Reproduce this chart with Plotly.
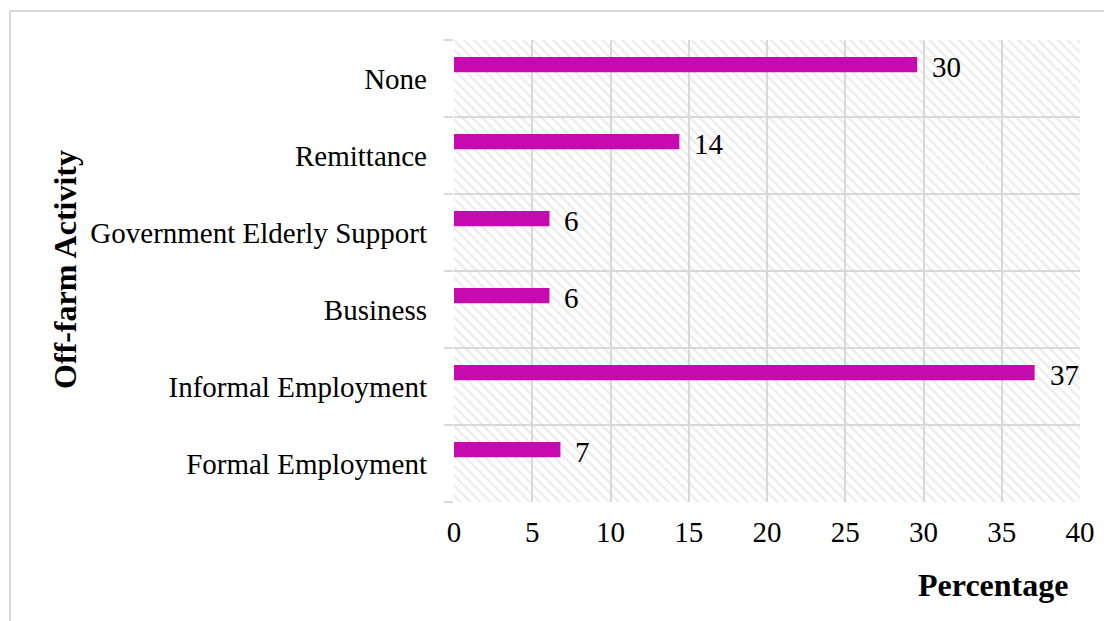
import plotly.graph_objects as go

categories = ["Formal Employment", "Informal Employment", "Business",
              "Government Elderly Support", "Remittance", "None"]
values = [6.8, 37.1, 6.1, 6.1, 14.4, 29.6]
labels = ["7", "37", "6", "6", "14", "30"]
x_max = 40
x_ticks = [0, 5, 10, 15, 20, 25, 30, 35, 40]

W, H = 1112, 621
OFF = 8  # page offset of the figure in the browser
L, R, T, B = 454 - OFF, W - 1080 + OFF, 40 - OFF, H - 502 + OFF
pw, ph = W - L - R, H - T - B

def px_x(p):
    return (p - OFF - L) / pw

def px_y(p):
    return (H - B - (p - OFF)) / ph

FONT = "Liberation Serif, Times New Roman, serif"
GRID = "#d9d9d9"
BAR = "#C709B0"
BAR_W = 0.2
BAR_SHIFT = 0.18  # bars sit above the category centre (clustered layout)

fig = go.Figure()
# hatched background bands
fig.add_trace(go.Bar(
    y=categories, x=[x_max] * len(categories), orientation="h", width=1,
    marker=dict(color="rgba(0,0,0,0)", line=dict(width=0),
                pattern=dict(shape="\\", fgcolor="#d6d6d6", bgcolor="rgba(0,0,0,0)",
                             size=7, solidity=0.3)),
    hoverinfo="skip", showlegend=False))
fig.add_trace(go.Bar(
    y=categories, x=values, orientation="h", width=BAR_W,
    offset=BAR_SHIFT - BAR_W / 2,
    marker=dict(color=BAR, line=dict(width=0)), showlegend=False))

row_px = ph / len(categories)
for c, v, t in zip(categories, values, labels):
    fig.add_annotation(x=v, y=c, text=t, showarrow=False, xanchor="left",
                       xshift=13, yshift=BAR_SHIFT * row_px - 2,
                       font=dict(family=FONT, size=29, color="black"))

fig.add_annotation(x=px_x(65), y=px_y(270), xref="paper", yref="paper",
                   xanchor="center", yanchor="middle",
                   text="<b>Off-farm Activity</b>", textangle=-90, showarrow=False,
                   font=dict(family=FONT, size=32, color="black"))
fig.add_annotation(x=px_x(993), y=px_y(585), xref="paper", yref="paper",
                   xanchor="center", yanchor="middle",
                   text="<b>Percentage</b>", showarrow=False,
                   font=dict(family=FONT, size=32, color="black"))

fig.add_shape(type="rect", xref="paper", yref="paper",
              x0=px_x(10), x1=px_x(1250), y0=px_y(750), y1=px_y(11),
              line=dict(color=GRID, width=2), layer="below")

fig.update_layout(
    width=W, height=H, barmode="overlay",
    margin=dict(l=L, r=R, t=T, b=B),
    paper_bgcolor="white", plot_bgcolor="white",
    font=dict(family=FONT, size=29, color="black"),
    xaxis=dict(range=[0, x_max], tickvals=x_ticks, showgrid=True, gridcolor=GRID,
               gridwidth=2, zeroline=False, showline=False, ticks="",
               ticklabelstandoff=10, tickfont=dict(size=29), fixedrange=True),
    yaxis=dict(range=[-0.5, len(categories) - 0.5], type="category",
               categoryorder="array", categoryarray=categories,
               tickson="boundaries", ticks="outside", ticklen=9, tickcolor=GRID,
               tickwidth=2, showgrid=True, gridcolor=GRID, gridwidth=2,
               showline=False, zeroline=False, ticklabelstandoff=26,
               tickfont=dict(size=29), fixedrange=True),
)
fig.write_html("out.html")
